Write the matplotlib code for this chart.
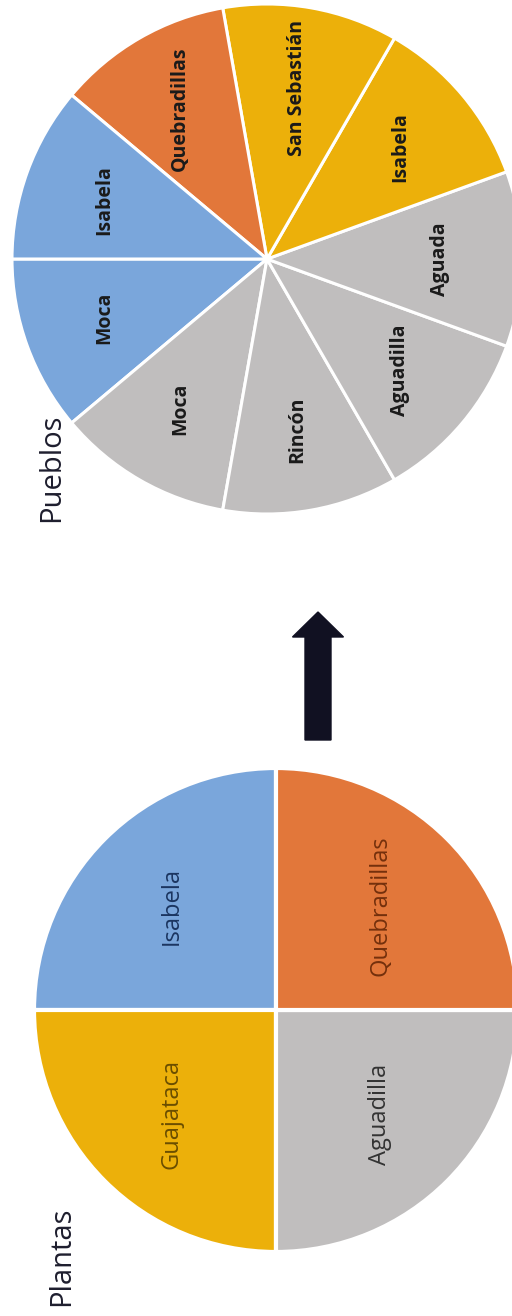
import matplotlib
matplotlib.use("Agg")
import matplotlib.pyplot as plt

# ---- data ----
plantas_labels = ["Isabela", "Guajataca", "Aguadilla", "Quebradillas"]
plantas_values = [1, 1, 1, 1]
plantas_colors = ["#7AA6DB", "#ECB00A", "#C0BEBE", "#E2773A"]
plantas_text_colors = ["#1B3560", "#6A4E00", "#333333", "#74300C"]

pueblos_labels = ["Moca", "Moca", "Rincón", "Aguadilla", "Aguada",
                  "Isabela", "San Sebastián", "Quebradillas", "Isabela"]
pueblos_values = [1, 1, 1, 1, 1, 1, 1, 1, 1]
pueblos_colors = ["#7AA6DB", "#C0BEBE", "#C0BEBE", "#C0BEBE", "#C0BEBE",
                  "#ECB00A", "#ECB00A", "#E2773A", "#7AA6DB"]

title_plantas = "Plantas"
title_pueblos = "Pueblos"

W, H = 512, 1316
fig = plt.figure(figsize=(W / 100, H / 100), dpi=100)
ax = fig.add_axes([0, 0, 1, 1])

FONT = ["Open Sans", "DejaVu Sans"]

# Pueblos pie (top)
wedges, texts = ax.pie(pueblos_values, labels=pueblos_labels, colors=pueblos_colors,
                       startangle=180, counterclock=True,
                       center=(267, H - 259), radius=255, labeldistance=0.68,
                       wedgeprops=dict(edgecolor="white", linewidth=2.2),
                       textprops=dict(fontsize=14, fontweight="bold",
                                      color="#1A1A1A", family=FONT))
for t in texts:
    t.set_rotation(90)
    t.set_ha("center")
    t.set_va("center")

# Plantas pie (bottom)
wedges2, texts2 = ax.pie(plantas_values, labels=plantas_labels, colors=plantas_colors,
                         startangle=90, counterclock=True,
                         center=(276, H - 1010), radius=242, labeldistance=0.61,
                         wedgeprops=dict(edgecolor="white", linewidth=3),
                         textprops=dict(fontsize=17, family=FONT))
for t, c in zip(texts2, plantas_text_colors):
    t.set_rotation(90)
    t.set_ha("center")
    t.set_va("center")
    t.set_color(c)

# Titles
ax.text(52, H - 468, title_pueblos, rotation=90, ha="center", va="center",
        fontsize=21, color="#1E1E2E", family=FONT)
ax.text(62, H - 1256, title_plantas, rotation=90, ha="center", va="center",
        fontsize=21, color="#1E1E2E", family=FONT)

# Arrow
ax.arrow(318, H - 740, 0, 128, width=26, head_width=51, head_length=25,
         length_includes_head=True, color="#111122")

ax.set_xlim(0, W)
ax.set_ylim(0, H)
ax.set_aspect("equal")
ax.axis("off")

fig.savefig("out.png", dpi=100, facecolor="white")
